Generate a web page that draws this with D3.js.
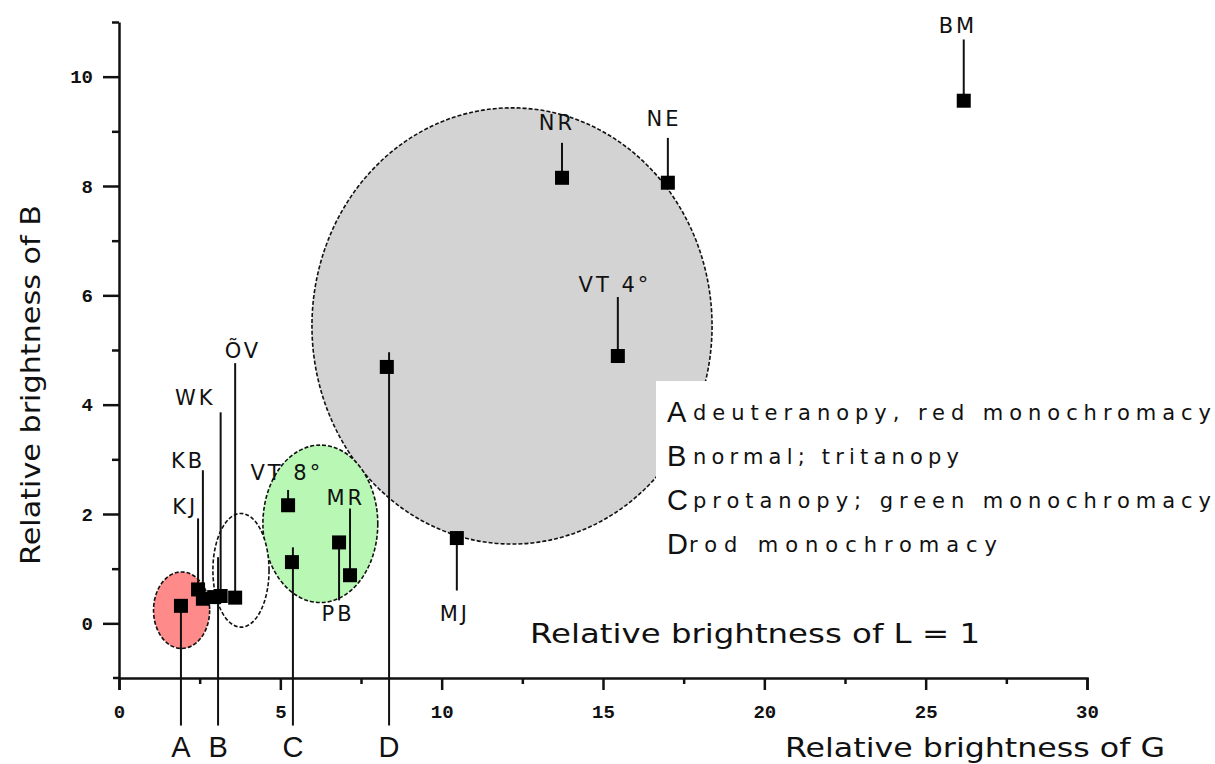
<!DOCTYPE html>
<html>
<head>
<meta charset="utf-8">
<script src="https://cdn.jsdelivr.net/npm/d3@7"></script>
<style>
  body { margin: 0; background: #fff; }
  svg { display: block; font-family: "DejaVu Sans", sans-serif; }
  .axis path, .axis line { stroke: #111; stroke-width: 2.5; }
</style>
</head>
<body>
<div id="chart"></div>
<script>
// chart size
var svgWidth = 1215;
var svgHeight = 764;

// axis ticks
var xMajor = [0, 5, 10, 15, 20, 25, 30];
var xMinor = [2.5, 7.5, 12.5, 17.5, 22.5, 27.5];
var yMajor = [0, 2, 4, 6, 8, 10];
var yMinor = [1, 3, 5, 7, 9, 11];

// measured subjects (G, B), labels and leader line ends
var ptName = ["", "KJ", "KB", "", "WK", "ÕV", "VT 8°", "", "PB", "MR", "", "MJ", "NR", "NE", "VT 4°", "BM"];
var ptG    = [1.92, 2.45, 2.6, 2.95, 3.15, 3.6, 5.24, 5.36, 6.82, 7.16, 8.3, 10.47, 13.73, 17.01, 15.46, 26.18];
var ptB    = [0.32, 0.62, 0.45, 0.48, 0.5, 0.47, 2.16, 1.12, 1.48, 0.88, 4.69, 1.56, 8.15, 8.06, 4.89, 9.56];
var tipB   = [0.32, 1.92, 2.8, 0.48, 3.86, 4.76, 2.44, 1.12, 0.42, 2.1, 4.69, 0.6, 8.79, 8.88, 5.97, 10.68];
var labG   = [0, 2.05, 2.14, 0, 2.36, 3.84, 5.2, 0, 6.79, 7.03, 0, 10.41, 13.57, 16.89, 15.37, 26.0];
var labB   = [0, 2.0, 2.84, 0, 3.99, 4.85, 2.62, 0, 0.04, 2.16, 0, 0.04, 9.02, 9.1, 6.06, 10.8];

// group markers below the axis
var grpName = ["A", "B", "C", "D"];
var grpG    = [1.92, 3.07, 5.39, 8.37];
var grpTop  = [0.32, 1.21, 1.39, 4.96];
var grpBottom = -1.87;
var grpLabelB = -2.45;

// group ellipses: centre, radii (data units)
var ellG  = [12.18, 6.24, 3.78, 1.94];
var ellB  = [5.44, 1.82, 0.97, 0.24];
var ellRG = [6.2, 1.78, 0.87, 0.87];
var ellRB = [3.99, 1.44, 1.04, 0.7];
var ellFill = ["#d3d3d3", "#b9f8b4", "#ffffff", "#ff8a8a"];

// legend
var legLetter = ["A", "B", "C", "D"];
var legText = ["deuteranopy, red monochromacy", "normal; tritanopy", "protanopy; green monochromacy", "rod monochromacy"];
var legWidth = [518, 266, 518, 308];

var svg = d3.select("#chart")
  .append("svg")
  .attr("width", svgWidth)
  .attr("height", svgHeight);

var x = d3.scaleLinear().domain([0, 30]).range([119, 1087]);
var y = d3.scaleLinear().domain([-1, 11]).range([678, 22]);

// ellipses
svg.selectAll("ellipse")
  .data(ellG)
  .enter()
  .append("ellipse")
  .attr("cx", (d, i) => x(d))
  .attr("cy", (d, i) => y(ellB[i]))
  .attr("rx", (d, i) => x(ellRG[i]) - x(0))
  .attr("ry", (d, i) => y(0) - y(ellRB[i]))
  .attr("fill", (d, i) => ellFill[i])
  .attr("stroke", "#111")
  .attr("stroke-width", 1.6)
  .attr("stroke-dasharray", "4,2");

// legend box hides the corner of the grey ellipse
svg.append("rect")
  .attr("x", 656).attr("y", 381)
  .attr("width", 559).attr("height", 190)
  .attr("fill", "#fff");

legText.forEach((t, i) => {
  var by = 420 + i * 44;
  svg.append("text")
    .attr("x", 667).attr("y", by + 2)
    .attr("font-size", 29)
    .attr("font-family", "Liberation Sans, sans-serif")
    .attr("fill", "#111")
    .text(legLetter[i]);
  svg.append("text")
    .attr("x", i == 3 ? 689 : 693).attr("y", by)
    .attr("font-size", 21)
    .attr("fill", "#111")
    .attr("textLength", legWidth[i])
    .attr("lengthAdjust", "spacing")
    .text(t);
});

// axes
var yAx = svg.append("g")
  .attr("class", "axis")
  .attr("transform", `translate(${x(0)}, 0)`)
  .call(d3.axisLeft(y).tickValues(yMajor).tickSize(16).tickSizeOuter(0).tickPadding(10).tickFormat(d3.format("d")));
svg.append("g")
  .attr("class", "axis")
  .attr("transform", `translate(${x(0)}, 0)`)
  .call(d3.axisLeft(y).tickValues(yMinor).tickSize(7).tickSizeOuter(0).tickFormat(""))
  .select(".domain").remove();

var xAx = svg.append("g")
  .attr("class", "axis")
  .attr("transform", `translate(0, ${y(-1)})`)
  .call(d3.axisBottom(x).tickValues(xMajor).tickSize(12).tickSizeOuter(12).tickPadding(15).tickFormat(d3.format("d")));
svg.append("g")
  .attr("class", "axis")
  .attr("transform", `translate(0, ${y(-1)})`)
  .call(d3.axisBottom(x).tickValues(xMinor).tickSize(6).tickSizeOuter(0).tickFormat(""))
  .select(".domain").remove();

[xAx, yAx].forEach(ax => ax.selectAll("text")
  .style("font-size", "19px")
  .style("font-weight", "bold")
  .style("font-family", "Liberation Mono, monospace")
  .attr("fill", "#111"));

// axis line runs a little left of the origin
svg.append("line")
  .attr("x1", x(0) - 6).attr("x2", x(0))
  .attr("y1", y(-1)).attr("y2", y(-1))
  .attr("stroke", "#111").attr("stroke-width", 2.5);

// group lines and letters
grpG.forEach((g, i) => {
  svg.append("line")
    .attr("x1", x(g)).attr("x2", x(g))
    .attr("y1", y(grpTop[i])).attr("y2", y(grpBottom))
    .attr("stroke", "#111").attr("stroke-width", 2);
  svg.append("text")
    .attr("x", x(g)).attr("y", y(grpLabelB))
    .attr("text-anchor", "middle")
    .attr("font-size", 29)
    .attr("font-family", "Liberation Sans, sans-serif")
    .attr("fill", "#111")
    .text(grpName[i]);
});

// leader lines
svg.selectAll(".lead")
  .data(ptG)
  .enter()
  .append("line")
  .attr("class", "lead")
  .attr("x1", d => x(d)).attr("x2", d => x(d))
  .attr("y1", (d, i) => y(ptB[i])).attr("y2", (d, i) => y(tipB[i]))
  .attr("stroke", "#111").attr("stroke-width", 2);

// markers
svg.selectAll(".pt")
  .data(ptG)
  .enter()
  .append("rect")
  .attr("class", "pt")
  .attr("x", d => x(d) - 7)
  .attr("y", (d, i) => y(ptB[i]) - 7)
  .attr("width", 14).attr("height", 14)
  .attr("fill", "#000");

// point labels
svg.selectAll(".lab")
  .data(ptName)
  .enter()
  .filter(d => d != "")
  .append("text")
  .attr("class", "lab")
  .attr("x", d => x(labG[ptName.indexOf(d)]))
  .attr("y", d => y(labB[ptName.indexOf(d)]))
  .attr("text-anchor", "middle")
  .attr("font-size", 21)
  .attr("letter-spacing", 3)
  .attr("fill", "#111")
  .text(d => d);

// titles
svg.append("text")
  .attr("x", 785).attr("y", 757)
  .attr("font-size", 27)
  .attr("textLength", 380).attr("lengthAdjust", "spacingAndGlyphs")
  .attr("fill", "#111")
  .text("Relative brightness of G");

svg.append("text")
  .attr("x", 530).attr("y", 643)
  .attr("font-size", 27)
  .attr("textLength", 450).attr("lengthAdjust", "spacingAndGlyphs")
  .attr("fill", "#111")
  .text("Relative brightness of L = 1");

svg.append("text")
  .attr("transform", "translate(40, 565) rotate(-90)")
  .attr("font-size", 27)
  .attr("textLength", 360).attr("lengthAdjust", "spacingAndGlyphs")
  .attr("fill", "#111")
  .text("Relative brightness of B");
</script>
</body>
</html>
